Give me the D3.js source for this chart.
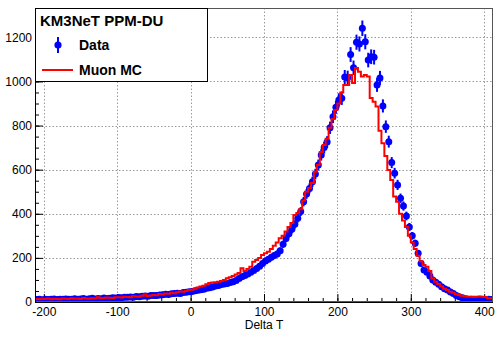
<!DOCTYPE html>
<html>
<head>
<meta charset="utf-8">
<script src="https://cdn.jsdelivr.net/npm/d3@7"></script>
<style>
  body { margin: 0; background: #fff; }
  svg text { font-family: "Liberation Sans", Arial, Helvetica, sans-serif; }
</style>
</head>
<body>
<svg id="chart" width="495" height="337"></svg>
<script>
// histogram binning: 156 bins of width 4 starting at -212
const binStart = -212;
const binWidth = 4;

// measured counts (blue points), one per bin
const dataCounts = [
  11, 12, 10, 13, 11, 12, 14, 11, 13, 12, 14, 13, 12, 15, 13, 14, 16, 13, 15, 17, 14, 16, 15, 18, 16, 17, 19, 18,
  20, 19, 22, 21, 23, 22, 25, 24, 26, 27, 26, 29, 30, 29, 32, 33, 35, 34, 37, 38, 40, 39, 43, 44, 46,
  48, 51, 53, 56, 58, 62, 65, 68, 72, 75, 79, 82, 84, 88, 92, 98, 106, 114, 120, 127, 135, 143, 152, 162, 175,
  186, 194, 203, 211, 218, 232, 262, 288, 310, 330, 352, 380, 410, 455, 490, 515, 545, 580, 621, 667, 700, 725, 790, 840, 883,
  916, 924, 1020, 1017, 1122, 1062, 1178, 1170, 1241, 1180, 1097, 1112, 1110, 984, 1016, 889, 795, 727, 632, 584, 531, 470, 435, 390, 340,
  300, 266, 221, 175, 145, 135, 118, 100, 90, 80, 69, 60, 54, 45, 39, 30, 24, 19, 15, 13, 12, 12, 11, 12, 11, 10, 12, 11
];

// simulated muon counts (red histogram), one per bin
const mcCounts = [
  14, 13, 15, 14, 16, 13, 15, 14, 13, 16, 15, 14, 17, 15, 16, 14, 18, 16, 15, 17, 16, 22, 17, 18, 20, 19, 18, 21,
  22, 20, 24, 23, 22, 26, 25, 24, 28, 34, 27, 30, 32, 31, 36, 34, 38, 37, 42, 40, 44, 48, 46, 50, 54,
  56, 60, 66, 70, 74, 80, 86, 88, 90, 92, 95, 100, 108, 112, 118, 125, 132, 153, 140, 150, 160, 183, 190, 200, 213,
  221, 228, 240, 255, 270, 289, 300, 320, 340, 358, 395, 403, 420, 460, 500, 517, 540, 591, 621, 680, 712, 740, 790, 830, 871,
  900, 950, 984, 984, 1029, 993, 1061, 1044, 1022, 1029, 1022, 925, 908, 886, 777, 720, 662, 599, 553, 478, 455, 400, 370, 340, 300,
  270, 240, 210, 185, 168, 160, 140, 107, 92, 82, 70, 60, 54, 47, 42, 35, 32, 28, 26, 24, 24, 23, 24, 25, 24, 23, 17, 17
];

const xTicks = [-200, -100, 0, 100, 200, 300, 400];
const yTicks = [0, 200, 400, 600, 800, 1000, 1200];
const xTitle = 'Delta T';
const legendTitle = 'KM3NeT PPM-DU';
const legendLabels = ['Data', 'Muon MC'];

const svg = d3.select('#chart');

const x = d3.scaleLinear().domain([-212, 412]).range([35, 493]);
const y = d3.scaleLinear().domain([0, 1333]).range([302, 8]);

const [x0, x1] = x.range();
const [y0, y1] = y.range();

svg.append('defs').append('clipPath').attr('id', 'frame')
  .append('rect').attr('x', x0).attr('y', y1).attr('width', x1 - x0).attr('height', y0 - y1);

// grid
const grid = svg.append('g').attr('stroke', '#9a9a9a').attr('stroke-dasharray', '1.5,2').attr('stroke-width', 1);
grid.selectAll('.gx').data(xTicks).enter().append('line')
  .attr('x1', d => Math.round(x(d)) + 0.5).attr('x2', d => Math.round(x(d)) + 0.5)
  .attr('y1', y1).attr('y2', y0);
grid.selectAll('.gy').data(yTicks.filter(d => d > 0)).enter().append('line')
  .attr('y1', d => Math.round(y(d)) + 0.5).attr('y2', d => Math.round(y(d)) + 0.5)
  .attr('x1', x0).attr('x2', x1);

// axes: ticks pointing into the frame, plain hyphen for negatives
const fmt = d => String(d);
const xAxis = svg.append('g').attr('transform', `translate(0,${y0})`)
  .call(d3.axisBottom(x).tickValues(xTicks).tickSize(-8).tickPadding(5).tickFormat(fmt));
const xMinor = svg.append('g').attr('transform', `translate(0,${y0})`)
  .call(d3.axisBottom(x).tickValues(d3.range(-200, 412, 20)).tickSize(-4).tickFormat(''));
const yAxis = svg.append('g').attr('transform', `translate(${x0},0)`)
  .call(d3.axisLeft(y).tickValues(yTicks).tickSize(-8).tickPadding(3).tickFormat(fmt));
const yMinor = svg.append('g').attr('transform', `translate(${x0},0)`)
  .call(d3.axisLeft(y).tickValues(d3.range(0, 1333, 50)).tickSize(-4).tickFormat(''));

[xAxis, xMinor, yAxis, yMinor].forEach(g => {
  g.select('.domain').remove();
  g.selectAll('line').attr('stroke', '#000');
  g.selectAll('text').attr('font-size', 12).attr('fill', '#000')
    .style('font-family', '"Liberation Sans", Arial, Helvetica, sans-serif');
});

// data points with statistical error bars
const plot = svg.append('g').attr('clip-path', 'url(#frame)');
const centre = i => binStart + (i + 0.5) * binWidth;

plot.append('g').selectAll('line').data(dataCounts).enter().append('line')
  .attr('x1', (d, i) => x(centre(i))).attr('x2', (d, i) => x(centre(i)))
  .attr('y1', d => y(d - Math.sqrt(d))).attr('y2', d => y(d + Math.sqrt(d)))
  .attr('stroke', '#0000ff').attr('stroke-width', 2);

plot.append('g').selectAll('circle').data(dataCounts).enter().append('circle')
  .attr('cx', (d, i) => x(centre(i))).attr('cy', d => y(d))
  .attr('r', 3.5).attr('fill', '#0000ff');

// MC histogram outline
const steps = mcCounts.map((v, i) => [binStart + i * binWidth, v]);
steps.push([binStart + mcCounts.length * binWidth, mcCounts[mcCounts.length - 1]]);
const stepLine = d3.line().x(d => x(d[0])).y(d => y(d[1])).curve(d3.curveStepAfter);
plot.append('path').attr('d', stepLine(steps))
  .attr('fill', 'none').attr('stroke', '#ff0000').attr('stroke-width', 2);

// frame
svg.append('rect').attr('x', x0 + 0.5).attr('y', y1 + 0.5)
  .attr('width', x1 - x0 - 1).attr('height', y0 - y1 - 1)
  .attr('fill', 'none').attr('stroke', '#555').attr('stroke-width', 1);
svg.append('line').attr('x1', x0).attr('x2', x1).attr('y1', y0 + 0.5).attr('y2', y0 + 0.5).attr('stroke', '#000');
svg.append('line').attr('x1', x0 + 0.5).attr('x2', x0 + 0.5).attr('y1', y1).attr('y2', y0).attr('stroke', '#000');

// x axis title
svg.append('text').attr('x', (x0 + x1) / 2).attr('y', 329)
  .attr('text-anchor', 'middle').attr('font-size', 12).text(xTitle);

// legend
const legend = svg.append('g');
legend.append('rect').attr('x', 35.5).attr('y', 8.5).attr('width', 172).attr('height', 73)
  .attr('fill', '#fff').attr('stroke', '#000').attr('stroke-width', 1);
legend.append('text').attr('x', 40).attr('y', 26).attr('font-size', 15).attr('font-weight', 'bold')
  .text(legendTitle);
legend.append('line').attr('x1', 58).attr('x2', 58).attr('y1', 37).attr('y2', 53)
  .attr('stroke', '#0000ff').attr('stroke-width', 2);
legend.append('circle').attr('cx', 58).attr('cy', 45).attr('r', 3.6).attr('fill', '#0000ff');
legend.append('text').attr('x', 79).attr('y', 50).attr('font-size', 14).attr('font-weight', 'bold')
  .text(legendLabels[0]);
legend.append('line').attr('x1', 42).attr('x2', 73).attr('y1', 70).attr('y2', 70)
  .attr('stroke', '#ff0000').attr('stroke-width', 2);
legend.append('text').attr('x', 79).attr('y', 75).attr('font-size', 14).attr('font-weight', 'bold')
  .text(legendLabels[1]);
</script>
</body>
</html>
